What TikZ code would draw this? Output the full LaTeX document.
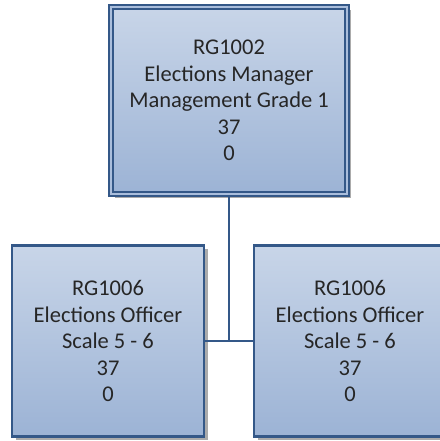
\documentclass[tikz,border=0pt]{standalone}
\usepackage{fontspec}
\setmainfont{Carlito}
\usetikzlibrary{positioning,shadows}
\definecolor{boxline}{RGB}{52,88,136}
\definecolor{boxgap}{RGB}{170,190,220}
\definecolor{boxtop}{RGB}{200,213,232}
\definecolor{boxbottom}{RGB}{156,179,213}
\tikzset{
    post/.style={
        draw=boxline,
        line width=2.4pt,
        top color=boxtop,
        bottom color=boxbottom,
        align=center,
        inner sep=0pt,
        text=black!85,
        font=\fontsize{22.5}{26.5}\selectfont,
        drop shadow={shadow xshift=3.5pt, shadow yshift=-3.5pt, fill=black!55, opacity=0.6}
    },
    head post/.style={post, line width=2pt, double=boxgap, double distance=2.2pt},
    connector/.style={draw=boxline, line width=2.6pt}
}

\begin{document}
\begin{tikzpicture}[x=1pt, y=-1pt]
                \useasboundingbox (0,0) rectangle (439,441);

                \node[head post, minimum width=236pt, minimum height=187pt] (elections_manager) at (229,100.5) {RG1002\\Elections Manager\\Management Grade 1\\37\\0};
                \node[post, minimum width=192pt, minimum height=191pt] (officer_left) at (108,341) {RG1006\\Elections Officer\\Scale 5 - 6\\37\\0};
                \node[post, minimum width=192pt, minimum height=191pt] (officer_right) at (350,341) {RG1006\\Elections Officer\\Scale 5 - 6\\37\\0};

                \path[connector] (elections_manager) -- (elections_manager |- officer_left);
                \path[connector] (officer_left) -- (officer_right);
            \end{tikzpicture}
\end{document}
